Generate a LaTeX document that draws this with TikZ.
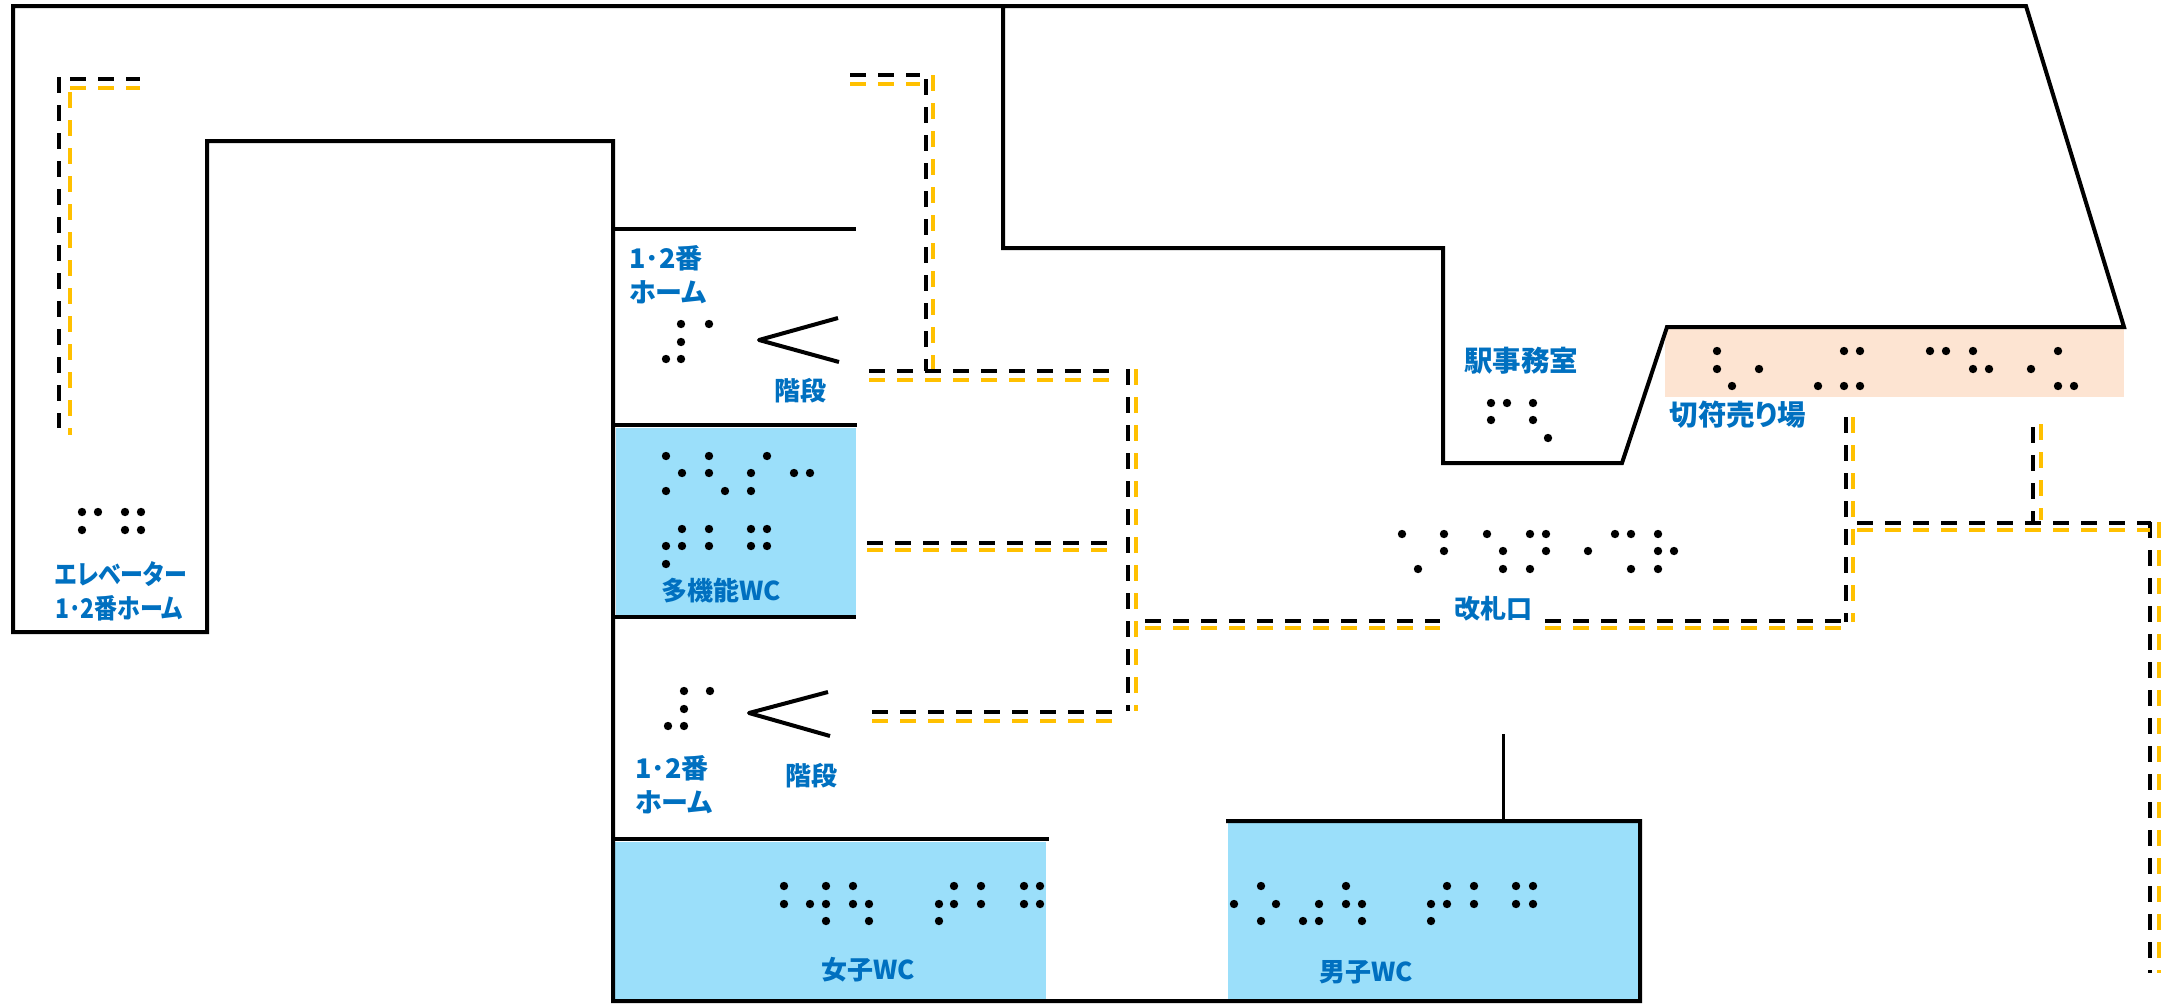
\documentclass[tikz,border=0pt]{standalone}
\usepackage{fontspec}
\usepackage{xcolor}
\usepackage{graphicx}
\setmainfont{Noto Sans CJK JP}[RawFeature={+palt}]
\definecolor{labelblue}{HTML}{0070C0}
\definecolor{wcblue}{HTML}{9BDFFA}
\definecolor{ticketpeach}{HTML}{FDE4D2}
\definecolor{guideorange}{HTML}{FFC000}
\usetikzlibrary{positioning}

\begin{document}
\begin{tikzpicture}[
    x=1pt, y=-1pt,
    wall/.style={draw=black, line width=4pt, line join=miter},
    stair/.style={draw=black, line width=4pt, line join=round},
    blackguide/.style={draw=black, line width=4.5pt, dash pattern=on 16pt off 12pt},
    orangeguide/.style={draw=guideorange, line width=4.5pt, dash pattern=on 16pt off 12pt},
    label/.style={text=labelblue, font=\bfseries\fontsize{27}{34}\selectfont, align=left, inner sep=0pt},
    smalllabel/.style={label, font=\bfseries\fontsize{26}{34}\selectfont},
    biglabel/.style={label, font=\bfseries\fontsize{28.5}{34}\selectfont}
]
    \useasboundingbox (0,0) rectangle (2168,1004);

    % Coloured rooms
    \fill[wcblue] (616,428) rectangle (856,615);
    \fill[wcblue] (614,842) rectangle (1046,1000);
    \fill[wcblue] (1228,823) rectangle (1638,999);
    \fill[ticketpeach] (1665,328) rectangle (2124,397);

    % Walls
    \draw[wall] (1226,821) -- (1640,821) -- (1640,1001) -- (613,1001) -- (613,141) -- (207,141) -- (207,632) -- (13,632) -- (13,6) -- (2026,6) -- (2124,327) -- (1667,327) -- (1622,463) -- (1443,463) -- (1443,248) -- (1003,248) -- (1003,6);
    \draw[wall] (613,229) -- (856,229);
    \draw[wall] (613,425) -- (857,425);
    \draw[wall] (613,617) -- (856,617);
    \draw[wall] (613,839) -- (1049,839);
    \draw[draw=black, line width=3pt] (1503,734) -- (1503,821);

    % Stairs
    \draw[stair] (838,318) -- (759,340) -- (839,362);
    \draw[stair] (828,692) -- (749,713) -- (830,736);

    % Guide lines, black
    \foreach \xa/\ya/\xb/\yb in {59/77/59/428, 70/79/140/79, 850/75/920/75, 926/79/926/371, 869/371/1109/371, 1128/369/1128/711, 867/543/1107/543, 872/712/1112/712, 1145/621/1440/621, 1545/621/1841/621, 1846/417/1846/622, 1857/523/2151/523, 2033/427/2033/523, 2150/522/2150/973}
        \draw[blackguide] (\xa,\ya) -- (\xb,\yb);

    % Guide lines, orange
    \foreach \xa/\ya/\xb/\yb in {70/92/70/435, 70/88/140/88, 850/84/920/84, 933/75/933/369, 869/380/1109/380, 1136/369/1136/711, 867/550/1107/550, 872/721/1112/721, 1145/628/1440/628, 1545/628/1841/628, 1853/417/1853/622, 1857/530/2150/530, 2041/424/2041/520, 2159/522/2159/973}
        \draw[orangeguide] (\xa,\ya) -- (\xb,\yb);

    % Braille dots
    \foreach \px/\py in {82/512, 98/512, 125/512, 141/512, 82/530, 125/530, 141/530,
        681/324, 709/324, 681/342, 666/359, 681/359,
        666/456, 709/456, 767/456, 682/473, 709/473, 751/473, 794/473, 810/473, 666/491, 725/491, 751/491,
        682/529, 709/529, 751/529, 767/529, 666/546, 682/546, 709/546, 751/546, 767/546, 666/564,
        684/691, 710/691, 684/709, 668/726, 684/726,
        784/886, 826/886, 853/886, 954/886, 981/886, 1024/886, 1040/886,
        784/904, 810/904, 826/904, 853/904, 869/904, 939/904, 954/904, 981/904, 1024/904, 1040/904,
        826/921, 869/921, 939/921,
        1261/886, 1346/886, 1447/886, 1474/886, 1516/886, 1533/886,
        1234/904, 1276/904, 1319/904, 1346/904, 1362/904, 1431/904, 1447/904, 1474/904, 1516/904, 1533/904,
        1261/921, 1303/921, 1319/921, 1362/921, 1431/921,
        1717/351, 1844/351, 1860/351, 1930/351, 1946/351, 1973/351, 2058/351,
        1717/369, 1759/369, 1973/369, 1989/369, 2031/369,
        1732/386, 1818/386, 1844/386, 1860/386, 2058/386, 2074/386,
        1491/403, 1507/403, 1533/403, 1491/420, 1533/420, 1548/438,
        1402/534, 1444/534, 1487/534, 1530/534, 1546/534, 1615/534, 1631/534, 1658/534,
        1444/551, 1503/551, 1546/551, 1588/551, 1658/551, 1674/551,
        1418/569, 1503/569, 1530/569, 1631/569, 1658/569}
        \fill[black] (\px,\py) circle (4.2);

    % Labels
    \node[label, anchor=west] (elevator) at (55,591) {\scalebox{.85}[1]{エレベーター}\\\scalebox{.85}[1]{1･2番ホーム}};
    \node[label, anchor=west] (homeupper) at (629,275) {1･2番\\ホーム};
    \node[smalllabel] (stairupper) at (800,391) {階段};
    \node[smalllabel] (multiwc) at (721,591) {多機能WC};
    \node[label, anchor=west] (homelower) at (635,785) {1･2番\\ホーム};
    \node[smalllabel] (stairlower) at (811,776) {階段};
    \node[smalllabel] (womenwc) at (868,970) {女子WC};
    \node[smalllabel] (menwc) at (1366,972) {男子WC};
    \node[biglabel] (office) at (1521,361) {駅事務室};
    \node[biglabel] (ticket) at (1738,415) {切符売り場};
    \node[smalllabel] (gate) at (1493,609) {改札口};
\end{tikzpicture}
\end{document}
